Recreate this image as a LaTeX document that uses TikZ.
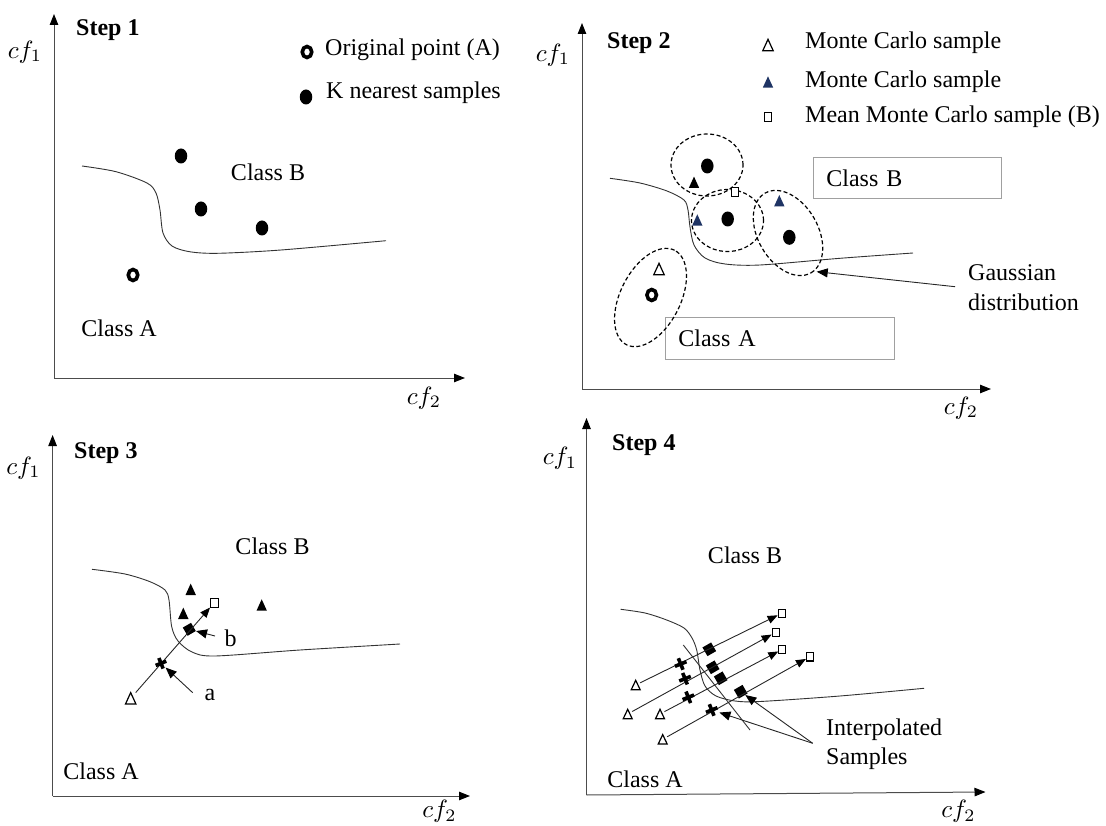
\documentclass[tikz,border=0pt]{standalone}
\usepackage{fontspec}
\setmainfont{Liberation Serif}
\usetikzlibrary{arrows.meta,shapes.geometric}
\definecolor{navytri}{RGB}{31,52,100}
\definecolor{boxgray}{RGB}{160,160,160}
\newcommand{\mkotri}[1]{\draw[line width=1.2pt, fill=white, line join=miter] (#1.north) -- (#1.south west) -- (#1.south east) -- cycle;}
\newcommand{\mkftri}[2]{\fill[#2] (#1.north) -- (#1.south west) -- (#1.south east) -- cycle;}
\newcommand{\mkcross}[1]{\draw[line width=3.6pt] (#1.west) -- (#1.east) (#1.north) -- (#1.south);}
\newcommand{\cflab}[1]{\scalebox{2.5}{$cf_{#1}$}}
\begin{document}
\begin{tikzpicture}[x=1pt,y=1pt,
  txt/.style={font=\fontsize{24}{28}\selectfont, inner sep=0pt},
  steplbl/.style={font=\fontsize{24}{28}\selectfont\bfseries, inner sep=0pt},
  mlbl/.style={inner sep=0pt},
  axis/.style={draw=black!70, line width=1pt, -{Triangle[length=11pt,width=8.5pt,color=black]}},
  bnd/.style={draw=black!80, line width=0.9pt},
  dot/.style={ellipse, fill=black, minimum width=12.5pt, minimum height=15pt, inner sep=0pt},
  ring/.style={ellipse, draw=black, line width=3.6pt, fill=white, minimum width=9.5pt, minimum height=11pt, inner sep=0pt},
  trib/.style={rectangle, minimum width=10pt, minimum height=11pt, inner sep=0pt},
  smtrib/.style={rectangle, minimum width=8.5pt, minimum height=9pt, inner sep=0pt},
  osq/.style={rectangle, draw=black, line width=1.1pt, fill=white, minimum width=7.5pt, minimum height=9pt, inner sep=0pt},
  smsq/.style={rectangle, draw=black, line width=1.1pt, fill=white, minimum width=7pt, minimum height=8.5pt, inner sep=0pt},
  fdia/.style={rectangle, fill=black, minimum size=10pt, rotate=30, inner sep=0pt},
  xnode/.style={rectangle, minimum size=12pt, inner sep=0pt, rotate=22},
  gauss/.style={draw=black, line width=1.2pt, dash pattern=on 4pt off 2.5pt},
  classbox/.style={draw=boxgray, line width=0.8pt, font=\fontsize{24}{28}\selectfont, anchor=north west, inner xsep=13pt, inner ysep=0pt, align=left},
  ptr/.style={draw=black!85, line width=0.9pt, -{Triangle[length=11pt,width=9pt,color=black]}},
  conn/.style={draw=black!85, line width=0.9pt, -{Triangle[length=10pt,width=8pt,color=black]}}
]
\useasboundingbox (0,0) rectangle (1106,-826);

% ================= Step 1 =================
\coordinate (o1) at (54,-378);
\coordinate (y1) at (54,-14);
\coordinate (x1) at (465,-378);
\draw[axis] (o1) -- (y1);
\draw[axis] (o1) -- (x1);
\node[steplbl, anchor=west] (st1) at (76,-30) {Step 1};
\node[mlbl] (cfa1) at (25,-52) {\cflab{1}};
\node[mlbl] (cfb1) at (424,-398) {\cflab{2}};
\node[ring] (lr1) at (307,-52) {};
\node[txt, anchor=west] (lt1) at (325,-50) {Original point (A)};
\node[dot] (ld1) at (306,-97) {};
\node[txt, anchor=west] (lt2) at (326,-93) {K nearest samples};
\draw[bnd] plot[smooth, tension=0.5] coordinates {(82,-166) (116,-171.7) (147,-183) (156,-193) (160,-210) (163,-233) (172,-246) (189.5,-251.7) (217.5,-253.3) (281,-250) (386,-240.7)};
\node[dot] (d11) at (181,-156) {};
\node[dot] (d12) at (201,-209) {};
\node[dot] (d13) at (262,-228) {};
\node[ring] (r1) at (133,-275) {};
\node[txt] (cb1) at (268,-172) {Class B};
\node[txt] (ca1) at (119,-328) {Class A};

% ================= Step 2 =================
\coordinate (o2) at (582,-389);
\coordinate (y2) at (582,-23);
\coordinate (x2) at (991,-389);
\draw[axis] (o2) -- (y2);
\draw[axis] (o2) -- (x2);
\node[steplbl, anchor=west] (st2) at (607,-43) {Step 2};
\node[mlbl] (cfa2) at (553,-55) {\cflab{1}};
\node[mlbl] (cfb2) at (961,-408) {\cflab{2}};
% legend
\node[trib] (lg1) at (768,-45) {};
\mkotri{lg1}
\node[txt, anchor=west] (lg1t) at (805,-43) {Monte Carlo sample};
\node[trib] (lg2) at (768,-82) {};
\mkftri{lg2}{navytri}
\node[txt, anchor=west] (lg2t) at (805,-82) {Monte Carlo sample};
\node[osq] (lg3) at (768,-117) {};
\node[txt, anchor=west] (lg3t) at (805,-117) {Mean Monte Carlo sample (B)};
% class boxes
\node[classbox, text width=162pt, minimum height=41pt] (cb2) at (813,-157) {Class B};
\node[classbox, text width=203pt, minimum height=42pt] (ca2) at (665,-317) {Class A};
% boundary
\draw[bnd] plot[smooth, tension=0.5] coordinates {(610,-178.3) (640,-183) (667,-191) (684,-200) (688,-210) (690,-227) (694,-245) (705,-258) (725,-264) (760,-265) (840,-258.3) (913,-253)};
% gaussians
\draw[gauss] (707,-165) ellipse [x radius=36, y radius=31];
\draw[gauss] (727.5,-220.5) ellipse [x radius=36, y radius=31];
\draw[gauss, rotate around={-60:(788,-233)}] (788,-233) ellipse [x radius=46, y radius=30];
\draw[gauss, rotate around={63:(650.5,-297.5)}] (650.5,-297.5) ellipse [x radius=53, y radius=30];
% samples
\node[dot] (d21) at (707.3,-166) {};
\node[dot] (d22) at (727.7,-219) {};
\node[dot] (d23) at (789.3,-237.3) {};
\node[ring] (r2) at (651.7,-295) {};
\node[trib] (t21) at (659,-269) {};
\mkotri{t21}
\node[trib] (t22) at (694,-182.3) {};
\mkftri{t22}{black}
\node[trib] (t23) at (697.3,-220) {};
\mkftri{t23}{navytri}
\node[trib] (t24) at (779.3,-200.7) {};
\mkftri{t24}{navytri}
\node[osq] (s21) at (735,-191.7) {};
% gaussian label
\node[txt, anchor=west] (gl1) at (968,-273) {Gaussian};
\node[txt, anchor=west] (gl2) at (968,-302) {distribution};
\coordinate (gfrom) at (955,-286.7);
\coordinate (gto) at (816.7,-271.7);
\draw[ptr] (gfrom) -- (gto);

% ================= Step 3 =================
\coordinate (o3) at (52.6,-796);
\coordinate (y3) at (52.6,-435);
\coordinate (x3) at (470,-796);
\draw[axis] (o3) -- (y3);
\draw[axis] (o3) -- (x3);
\node[steplbl, anchor=west] (st3) at (74,-453) {Step 3};
\node[mlbl] (cfa3) at (23.5,-468) {\cflab{1}};
\node[mlbl] (cfb3) at (439.5,-811) {\cflab{2}};
\node[txt] (cb3) at (272.5,-546) {Class B};
\node[txt] (ca3) at (101,-771.7) {Class A};
\draw[bnd] plot[smooth, tension=0.5] coordinates {(92,-569.3) (125,-574) (150,-581.7) (165,-590) (169,-600) (171.7,-626.7) (178,-641) (192,-652) (215,-656) (300,-650) (400,-644)};
\node[trib] (t31) at (190.7,-589.3) {};
\node[trib] (t32) at (183.3,-613.3) {};
\node[trib] (t33) at (261.7,-605) {};
\node[trib] (t34) at (130.7,-698.3) {};
\node[osq] (s31) at (214.3,-602.7) {};
\node[xnode, minimum size=11pt] (x31) at (161,-663.3) {};
\node[fdia, minimum size=9.5pt] (dm31) at (189.3,-629.3) {};
\draw[conn] (t34) -- (s31);
\mkftri{t31}{black}
\mkftri{t32}{black}
\mkftri{t33}{black}
\mkotri{t34}
\mkcross{x31}
\node[txt] (lb3) at (230.7,-638.3) {b};
\node[txt] (la3) at (210,-695) {a};
\coordinate (bfrom) at (215,-636);
\coordinate (afrom) at (192.7,-692.7);
\draw[ptr] (bfrom) -- (dm31);
\draw[ptr] (afrom) -- (x31);

% ================= Step 4 =================
\coordinate (o4) at (586.5,-795);
\coordinate (y4) at (586.5,-418);
\coordinate (x4) at (985.5,-792);
\draw[axis] (o4) -- (y4);
\draw[axis] (o4) -- (x4);
\node[steplbl, anchor=west] (st4) at (612,-445) {Step 4};
\node[mlbl] (cfa4) at (560,-458) {\cflab{1}};
\node[mlbl] (cfb4) at (958.5,-811) {\cflab{2}};
\node[txt] (cb4) at (745,-555) {Class B};
\node[txt] (ca4) at (645,-779.3) {Class A};
\draw[bnd] plot[smooth, tension=0.5] coordinates {(620.7,-609.3) (645,-613) (666.7,-620) (684,-628) (692,-638) (696.7,-650) (700,-670) (705,-686) (716,-696) (735,-701) (760,-701.5) (840,-696) (924,-688.3)};
\coordinate (la) at (683.3,-645);
\coordinate (lb) at (750,-730);
\draw[bnd] (la) -- (lb);
% line 1
\node[smtrib] (t41) at (635.7,-685) {};
\node[xnode] (x41) at (680.7,-664) {};
\node[fdia] (dm41) at (709.3,-649.3) {};
\node[smsq] (s41) at (781.7,-613.3) {};
% line 2
\node[smtrib] (t42) at (627.7,-714) {};
\node[xnode] (x42) at (685,-678.7) {};
\node[fdia] (dm42) at (712.7,-667.3) {};
\node[smsq] (s42) at (775.7,-632.3) {};
% line 3
\node[smtrib] (t43) at (660,-714) {};
\node[xnode] (x43) at (688.3,-697.3) {};
\node[fdia] (dm43) at (720.7,-678.3) {};
\node[smsq] (s43) at (782.3,-649.3) {};
% line 4
\node[smtrib] (t44) at (662.7,-739.3) {};
\node[xnode] (x44) at (711.7,-710) {};
\node[fdia] (dm44) at (740.7,-691.7) {};
\node[smsq] (s44) at (810,-656.7) {};
\draw[conn] (t41) -- (s41);
\draw[conn] (t42) -- (s42);
\draw[conn] (t43) -- (s43);
\draw[conn] (t44) -- (s44);
\mkotri{t41}
\mkotri{t42}
\mkotri{t43}
\mkotri{t44}
\mkcross{x41}
\mkcross{x42}
\mkcross{x43}
\mkcross{x44}
\node[txt, anchor=west] (il1) at (826,-729.3) {Interpolated};
\node[txt, anchor=west] (il2) at (826,-758.3) {Samples};
\coordinate (ifrom) at (812.7,-743.3);
\draw[ptr] (ifrom) -- (dm44);
\draw[ptr] (ifrom) -- (x44);
\end{tikzpicture}
\end{document}
